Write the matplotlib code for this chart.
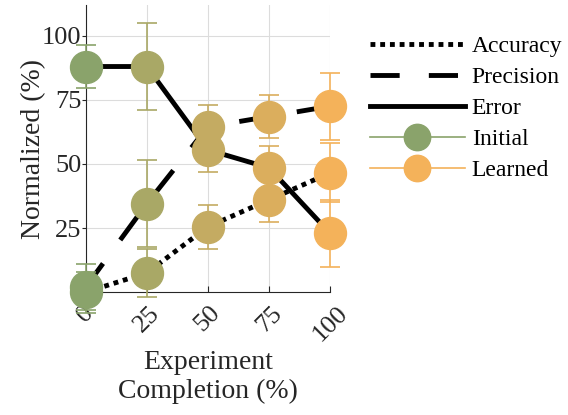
import numpy as np
import matplotlib.pyplot as plt
from matplotlib.lines import Line2D

plt.rcParams['font.family'] = ['Liberation Serif', 'DejaVu Serif']

completion = [0, 25, 50, 75, 100]
accuracy = [0, 7.5, 25.5, 36, 46.5]
accuracy_err = [8, 9.5, 8.5, 8.5, 11.5]
precision = [2, 34.5, 64.5, 68.5, 72.5]
precision_err = [9, 17, 8.5, 8.5, 13]
error = [88, 88, 55.5, 48.5, 23]
error_err = [8.5, 17, 8.5, 8.5, 13]

# colours blend from the initial green to the learned orange
point_colors = ['#8aa36b', '#a9a866', '#c4ab62', '#dbae5d', '#f4b25a']
initial_color = '#8aa36b'
learned_color = '#f4b25a'

fig = plt.figure(figsize=(5.68, 4.15), dpi=100)
ax = fig.add_axes([0.151, 0.296, 0.430, 0.692])

styles = [(accuracy, accuracy_err, (0, (1, 1))),
          (precision, precision_err, (0, (6, 6))),
          (error, error_err, '-')]

for vals, errs, ls in styles:
    ax.plot(completion, vals, color='black', lw=3.5, linestyle=ls,
            dash_capstyle='butt', zorder=3, clip_on=False)
    for x, y, e, c in zip(completion, vals, errs, point_colors):
        ax.errorbar(x, y, yerr=e, fmt='none', ecolor=c, elinewidth=1.2,
                    capsize=7.5, capthick=1.2, zorder=4, clip_on=False)
        ax.plot(x, y, 'o', color=c, markersize=23, zorder=5, clip_on=False)

ax.set_xlim(0, 100)
ax.set_ylim(0, 112)
ax.set_xticks(completion)
ax.set_xticklabels([str(v) for v in completion], rotation=45, fontsize=19)
ax.set_yticks([25, 50, 75, 100])
ax.set_yticklabels(['25', '50', '75', '100'], fontsize=19)
ax.tick_params(colors='#262626')
ax.tick_params(axis='x', direction='in', length=4, pad=7)
ax.tick_params(axis='y', direction='out', length=3, pad=0)
ax.grid(True, color='#dcdcdc', lw=0.8)
ax.set_axisbelow(True)
for side in ['top', 'right']:
    ax.spines[side].set_visible(False)
for side in ['left', 'bottom']:
    ax.spines[side].set_color('#262626')

ax.set_ylabel('Normalized (%)', fontsize=20, color='#262626', labelpad=-3)
ax.set_xlabel('Experiment\nCompletion (%)', fontsize=20, color='#262626',
              linespacing=1.2, labelpad=3)

handles = [
    Line2D([], [], color='black', lw=3.5, linestyle=(0, (1, 1)), dash_capstyle='butt'),
    Line2D([], [], color='black', lw=3.5, linestyle=(0, (6, 6)), dash_capstyle='butt'),
    Line2D([], [], color='black', lw=3.5, linestyle='-'),
    Line2D([], [], color=initial_color, lw=1.2, marker='o', markersize=19),
    Line2D([], [], color=learned_color, lw=1.2, marker='o', markersize=19),
]
labels = ['Accuracy', 'Precision', 'Error', 'Initial', 'Learned']
fig.legend(handles, labels, loc='upper left', bbox_to_anchor=(0.635, 0.937),
           frameon=False, fontsize=17, handlelength=4.0, handletextpad=0.3,
           labelspacing=0.4, borderaxespad=0)

fig.savefig('out.png', dpi=100)
